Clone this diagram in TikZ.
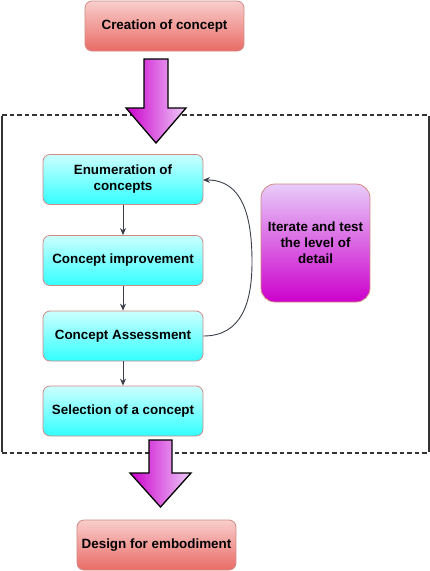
\documentclass[tikz,border=0pt]{standalone}
\usepackage{fontspec}
\setmainfont{Liberation Sans}
\usetikzlibrary{arrows.meta}
\begin{document}
\begin{tikzpicture}[x=1pt,y=-1pt,
  every node/.style={font=\fontsize{13.4}{16}\selectfont\bfseries, align=center, inner sep=0pt},
  redbox/.style={draw=redborder, line width=0.8pt, rounded corners=7pt, top color=redtop, bottom color=redbot, minimum width=159pt, minimum height=50pt},
  cyanbox/.style={draw=redborder, line width=0.8pt, rounded corners=7pt, top color=cyantop, bottom color=cyanbot, minimum width=160pt, minimum height=50pt},
  purplebox/.style={draw=redborder, line width=0.8pt, rounded corners=14pt, top color=purptop, bottom color=purpbot, minimum width=109pt, minimum height=118pt},
  bigarrow/.style={draw=black, line width=1.3pt, line join=miter, left color=arrleft, right color=arrright},
  flow/.style={draw=flowgray, line width=0.9pt, -{Stealth[length=7pt,width=6pt]}},
  dashline/.style={draw=boxgray, line width=1.2pt, dash pattern=on 4.5pt off 3pt},
  sideline/.style={draw=boxgray, line width=1.2pt}
]
\definecolor{redtop}{HTML}{F8CECC}
\definecolor{redbot}{HTML}{EA6B66}
\definecolor{redborder}{HTML}{D08A86}
\definecolor{cyantop}{HTML}{CCFFFF}
\definecolor{cyanbot}{HTML}{33FFFF}
\definecolor{purptop}{HTML}{E8CCFA}
\definecolor{purpbot}{HTML}{CC00CC}
\definecolor{arrleft}{HTML}{CC00CC}
\definecolor{arrright}{HTML}{EECCFA}
\definecolor{flowgray}{HTML}{3A3F4A}
\definecolor{boxgray}{HTML}{333333}
\useasboundingbox (0,0) rectangle (430,571);
\fill[white] (0,0) rectangle (430,571);

% dashed frame
\draw[dashline] (2,115) -- (429,115);
\draw[dashline] (2,453) -- (429,453);
\draw[sideline] (2,116) -- (2,452);
\draw[sideline] (429,116) -- (429,452);

% nodes
\node[redbox] (creation) at (164.5,26) {Creation of concept};
\node[cyanbox] (enum) at (123,179.5) {Enumeration of\\concepts};
\node[cyanbox] (improve) at (123,260.5) {Concept improvement};
\node[cyanbox] (assess) at (123,336) {Concept Assessment};
\node[cyanbox] (select) at (123,411) {Selection of a concept};
\node[purplebox] (iterate) at (315.5,243) {Iterate and test\\the level of\\detail};
\node[redbox] (design) at (156.5,545) {Design for embodiment};

% big arrows
\draw[bigarrow] (144,59) -- (168,59) -- (168,108) -- (186,108) -- (156,143) -- (126,108) -- (144,108) -- cycle;
\draw[bigarrow] (149,440) -- (172,440) -- (172,473) -- (191,473) -- (160.5,507) -- (130,473) -- (149,473) -- cycle;

% flow arrows
\draw[flow] (enum.south) -- (improve.north);
\draw[flow] (improve.south) -- (assess.north);
\draw[flow] (assess.south) -- (select.north);
\coordinate (loopR) at (252,262);
\coordinate (enumIn) at (203,180);
\draw[flow] (assess.east) .. controls (242,336) and (252,302) .. (loopR) .. controls (252,215) and (242,180) .. (enumIn);
\end{tikzpicture}
\end{document}
